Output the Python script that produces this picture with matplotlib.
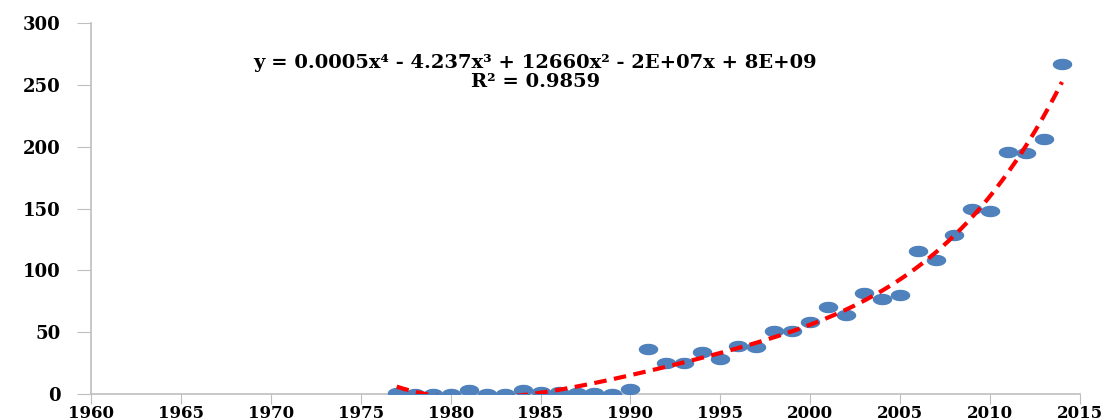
import numpy as np
import matplotlib
matplotlib.use("Agg")
import matplotlib.pyplot as plt
from matplotlib.path import Path

# data
years = list(range(1977, 2015))
counts = [1, 0, 0, 0, 3, 0, 0, 3, 2, 2, 1, 1, 0, 4,
          36, 25, 25, 34, 28, 39, 38, 51, 51, 58, 70, 64, 82, 77, 80,
          116, 108, 129, 150, 148, 196, 195, 206, 267]
eq_text = "y = 0.0005x\u2074 - 4.237x\u00b3 + 12660x\u00b2 - 2E+07x + 8E+09"
r2_text = "R\u00b2 = 0.9859"

x = np.array(years, dtype=float)
y = np.array(counts, dtype=float)

# 4th order polynomial trend (centred to keep it well conditioned)
coef = np.polyfit(x - 1995, y, 4)
xt = np.linspace(x.min(), x.max(), 200)
yt = np.polyval(coef, xt - 1995)

# wide ellipse marker, like the stretched original
t = np.linspace(0, 2 * np.pi, 60)
ell = Path(np.column_stack([1.8 * np.cos(t), np.sin(t)]), closed=True)

plt.rcParams["font.family"] = "DejaVu Serif"
plt.rcParams["font.weight"] = "bold"

fig = plt.figure(figsize=(11.18, 4.2), dpi=100)
ax = fig.add_axes([0.0814, 0.0619, 0.966 - 0.0814, 0.945 - 0.0619])

ax.plot(x, y, linestyle="none", marker=ell, markersize=13,
        color="#4F81BD", markeredgecolor="#4F81BD", zorder=3)
ax.plot(xt, yt, color="#FF0000", linewidth=3, linestyle=(0, (3, 1.8)), zorder=4)

ax.set_xlim(1960, 2015)
ax.set_ylim(0, 300)
ax.set_xticks(range(1960, 2016, 5))
ax.set_yticks(range(0, 301, 50))

for s in ["top", "right"]:
    ax.spines[s].set_visible(False)
for s in ["left", "bottom"]:
    ax.spines[s].set_color("#BFBFBF")
    ax.spines[s].set_linewidth(1.2)

ax.tick_params(axis="x", direction="out", length=7, color="#BFBFBF",
               labelsize=12, pad=1)
ax.tick_params(axis="y", direction="out", length=10, color="#BFBFBF",
               labelsize=13, pad=12)

ax.text(1984.7, 268, eq_text, ha="center", va="center", fontsize=14,
        fontweight="bold")
ax.text(1984.7, 252, r2_text, ha="center", va="center", fontsize=14,
        fontweight="bold")

fig.savefig("out.png", dpi=100)
